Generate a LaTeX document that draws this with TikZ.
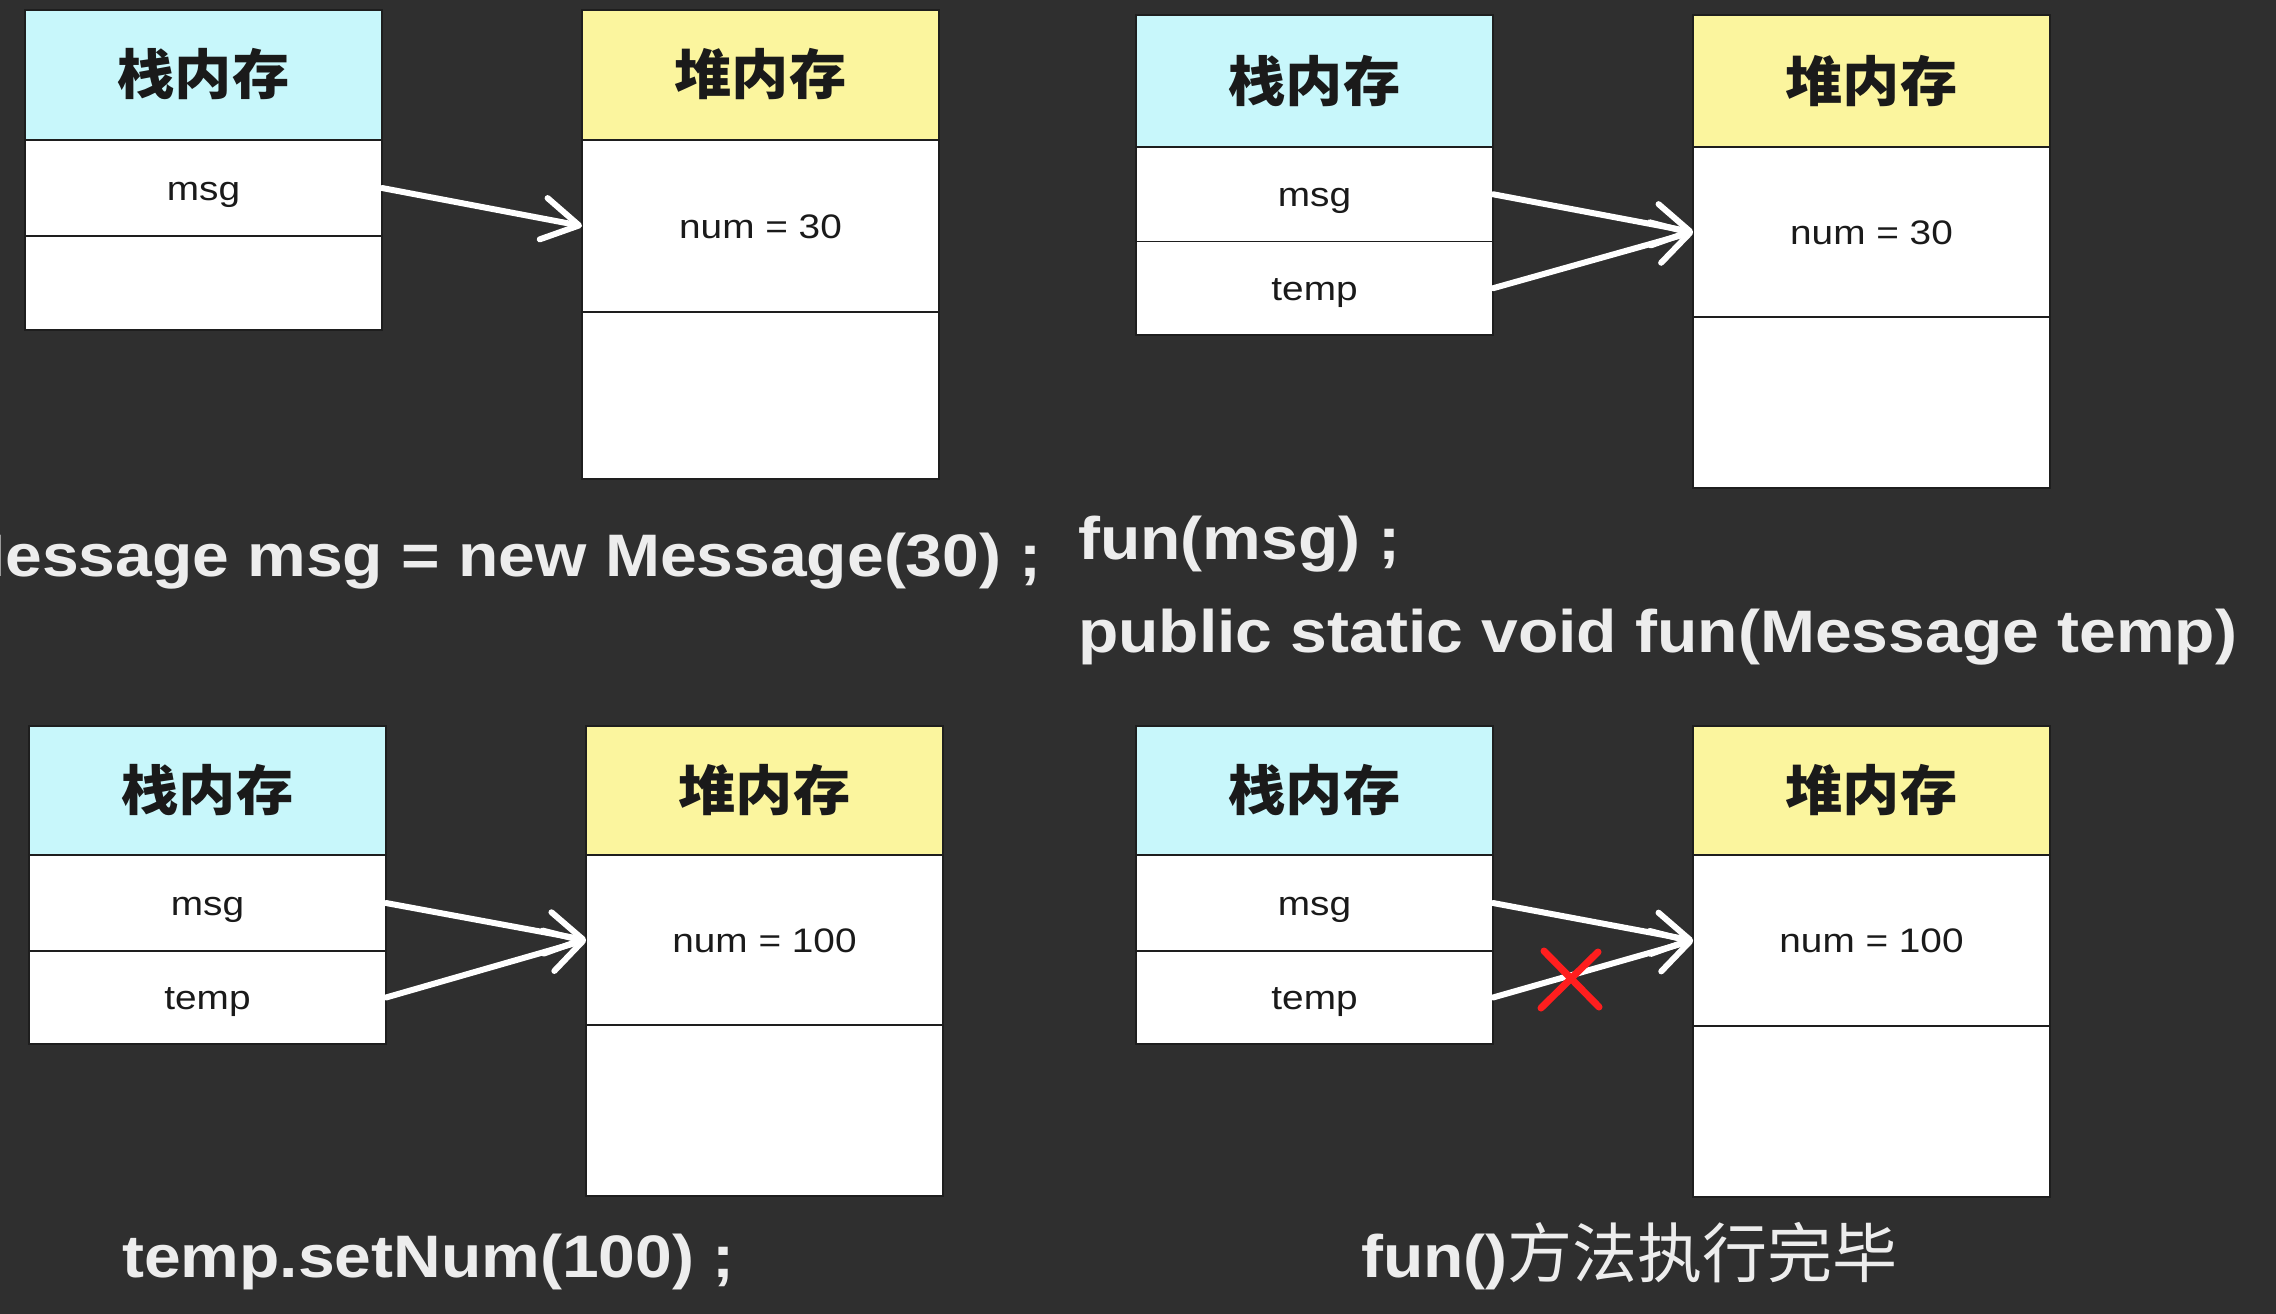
\documentclass[tikz,border=0pt]{standalone}
\usepackage{fontspec}
\setmainfont{Liberation Sans}
\newfontfamily\capfont{Liberation Sans}[FakeStretch=1.1]
\newfontfamily\cellfont{Liberation Sans}[FakeStretch=1.14]
\newfontfamily\headfont{Noto Sans CJK SC}[FakeStretch=1.06]
\newfontfamily\cjkcap{Noto Sans CJK SC}
\usetikzlibrary{arrows.meta}
\definecolor{bgc}{HTML}{2F2F2F}
\definecolor{stackc}{HTML}{C8F7FB}
\definecolor{heapc}{HTML}{FBF59E}
\definecolor{captc}{HTML}{EDEDED}
\definecolor{xred}{HTML}{FF1E1E}
\definecolor{edgec}{HTML}{1E1E1E}
\definecolor{txtc}{HTML}{1A1A1A}
\tikzset{
  cell/.style={draw=edgec, line width=1.6pt, fill=white, inner sep=0pt, outer sep=0pt,
    anchor=north west, minimum width=357pt, text=txtc, text height=24pt, text depth=0pt,
    font=\cellfont\fontsize{34}{40}\selectfont},
  stackhead/.style={cell, fill=stackc, text height=44pt, text depth=4pt,
    font=\headfont\bfseries\fontsize{54}{60}\selectfont},
  heaphead/.style={stackhead, fill=heapc},
  ptr/.style={draw=white, line width=6pt, line cap=round, line join=round,
    -{Straight Barb[length=36pt,width=42pt,line cap=round,line join=round]}},
  caption/.style={text=captc, inner sep=0pt, anchor=base west,
    font=\capfont\bfseries\fontsize{60}{72}\selectfont},
  crossline/.style={draw=xred, line width=7pt, line cap=round}
}
\begin{document}
\begin{tikzpicture}[x=1pt,y=-1pt]
\useasboundingbox (0,0) rectangle (2276,1314);
\fill[bgc] (0,0) rectangle (2276,1314);
\clip (0,0) rectangle (2276,1314);

% ---------- Panel 1 ----------
\node[stackhead, minimum height=130pt] (s1h) at (25,10) {栈内存};
\node[cell, minimum height=96pt] (s1m) at (s1h.south west) {msg};
\node[cell, minimum height=94pt] (s1e) at (s1m.south west) {};
\node[heaphead, minimum height=130pt] (h1h) at (582,10) {堆内存};
\node[cell, minimum height=172pt] (h1v) at (h1h.south west) {num = 30};
\node[cell, minimum height=167pt] (h1e) at (h1v.south west) {};
\draw[ptr] (s1m.east) -- (h1v.west);
\node[caption, anchor=base east] (c1) at (1042,576) {Message msg = new Message(30) ;};

% ---------- Panel 2 ----------
\node[stackhead, minimum height=132pt] (s2h) at (1136,15) {栈内存};
\node[cell, minimum height=94.5pt] (s2m) at (s2h.south west) {msg};
\node[cell, minimum height=93.5pt] (s2t) at (s2m.south west) {temp};
\node[heaphead, minimum height=132pt] (h2h) at (1693,15) {堆内存};
\node[cell, minimum height=170pt] (h2v) at (h2h.south west) {num = 30};
\node[cell, minimum height=171pt] (h2e) at (h2v.south west) {};
\draw[ptr] (s2m.east) -- (h2v.west);
\draw[ptr] (s2t.east) -- (h2v.west);
\node[caption] (c2a) at (1078,559) {fun(msg) ;};
\node[caption] (c2b) at (1078,652) {public static void fun(Message temp)};

% ---------- Panel 3 ----------
\node[stackhead, minimum height=129pt] (s3h) at (29,726) {栈内存};
\node[cell, minimum height=96pt] (s3m) at (s3h.south west) {msg};
\node[cell, minimum height=93pt] (s3t) at (s3m.south west) {temp};
\node[heaphead, minimum height=129pt] (h3h) at (586,726) {堆内存};
\node[cell, minimum height=170pt] (h3v) at (h3h.south west) {num = 100};
\node[cell, minimum height=171pt] (h3e) at (h3v.south west) {};
\draw[ptr] (s3m.east) -- (h3v.west);
\draw[ptr] (s3t.east) -- (h3v.west);
\node[caption] (c3) at (122,1277) {temp.setNum(100) ;};

% ---------- Panel 4 ----------
\node[stackhead, minimum height=129pt] (s4h) at (1136,726) {栈内存};
\node[cell, minimum height=96pt] (s4m) at (s4h.south west) {msg};
\node[cell, minimum height=93pt] (s4t) at (s4m.south west) {temp};
\node[heaphead, minimum height=129pt] (h4h) at (1693,726) {堆内存};
\node[cell, minimum height=171pt] (h4v) at (h4h.south west) {num = 100};
\node[cell, minimum height=171pt] (h4e) at (h4v.south west) {};
\draw[ptr] (s4m.east) -- (h4v.west);
\draw[ptr] (s4t.east) -- (h4v.west);
\coordinate (x4) at (1570,979);
\draw[crossline] ([shift={(-26,-28)}]x4) -- ([shift={(29,28)}]x4);
\draw[crossline] ([shift={(28,-27)}]x4) -- ([shift={(-29,29)}]x4);
\node[caption] (c4) at (1361,1277) {fun(){\cjkcap\mdseries\fontsize{65}{72}\selectfont 方法执行完毕}};
\end{tikzpicture}
\end{document}
